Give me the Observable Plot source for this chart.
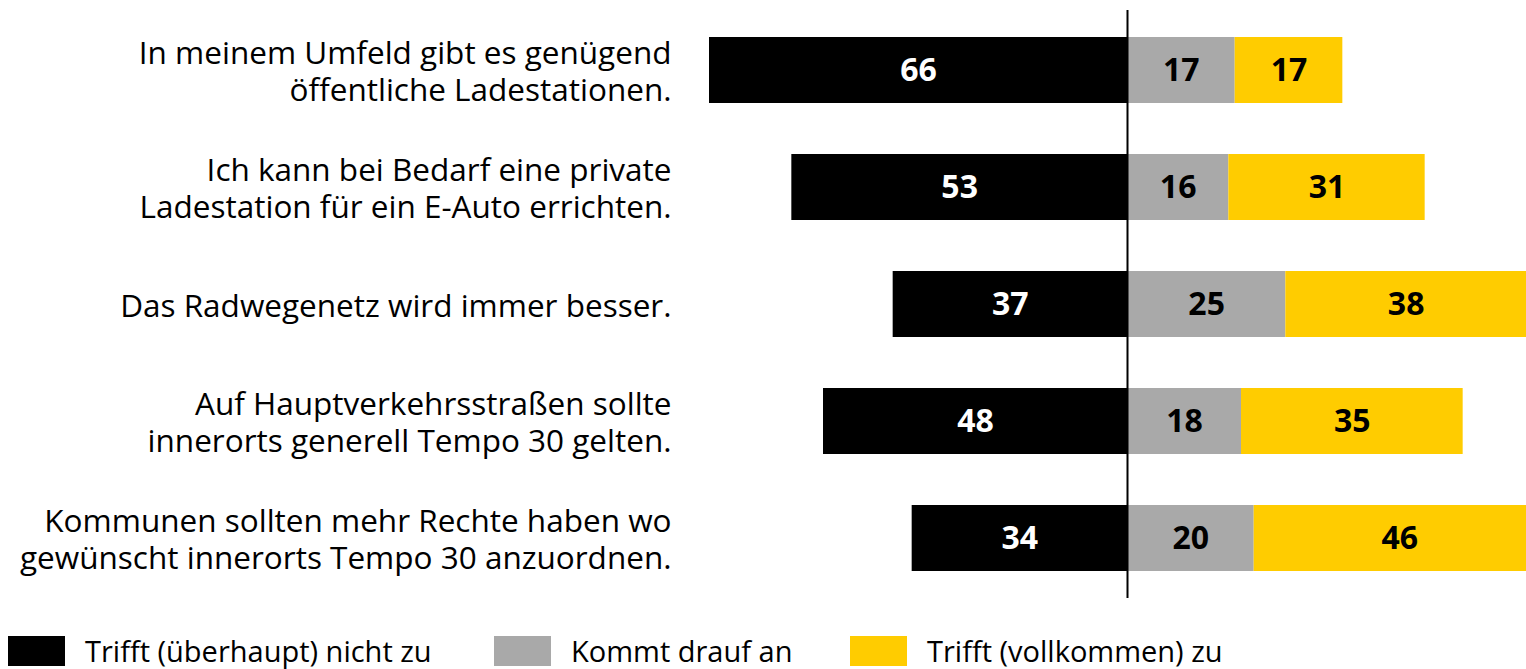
<!DOCTYPE html>
<html>
<head>
<meta charset="utf-8">
<script src="https://cdn.jsdelivr.net/npm/d3@7"></script>
<script src="https://cdn.jsdelivr.net/npm/@observablehq/plot@0.6"></script>
<style>
  html, body { margin: 0; padding: 0; background: #fff; }
  body { width: 1526px; height: 669px; position: relative; overflow: hidden; font-family: "Open Sans", sans-serif; }
  #chart { position: absolute; left: 0; top: 0; }
  .legend { position: absolute; left: 0; top: 636px; width: 1526px; height: 30px; }
  .item { position: absolute; top: 0; height: 30px; display: flex; align-items: center; }
  .sw { width: 57px; height: 30px; margin-right: 20px; flex: none; }
  .lab { font-size: 29px; color: #000; line-height: 30px; white-space: nowrap; }
</style>
</head>
<body>
<div id="chart"></div>
<div class="legend" id="legend"></div>
<script>
const categories = [
  "In meinem Umfeld gibt es genügend\nöffentliche Ladestationen.",
  "Ich kann bei Bedarf eine private\nLadestation für ein E-Auto errichten.",
  "Das Radwegenetz wird immer besser.",
  "Auf Hauptverkehrsstraßen sollte\ninnerorts generell Tempo 30 gelten.",
  "Kommunen sollten mehr Rechte haben wo\ngewünscht innerorts Tempo 30 anzuordnen."
];
const seriesNames = ["Trifft (überhaupt) nicht zu", "Kommt drauf an", "Trifft (vollkommen) zu"];
const seriesColors = ["#000000", "#A9A9A9", "#FFCC00"];
const trifftNicht = [66, 53, 37, 48, 34];
const kommtDraufAn = [17, 16, 25, 18, 20];
const trifftZu = [17, 31, 38, 35, 46];

const table = [];
categories.forEach((c, i) => {
  table.push({cat: c, series: seriesNames[0], value: -trifftNicht[i], label: trifftNicht[i]});
  table.push({cat: c, series: seriesNames[1], value: kommtDraufAn[i], label: kommtDraufAn[i]});
  table.push({cat: c, series: seriesNames[2], value: trifftZu[i], label: trifftZu[i]});
});

const plot = Plot.plot({
  width: 1526,
  height: 610,
  marginLeft: 709,
  marginRight: 0,
  marginTop: 10,
  marginBottom: 12,
  style: {fontFamily: "'Open Sans', sans-serif", background: "#fff"},
  x: {domain: [-66, 63], axis: null},
  y: {domain: categories, paddingInner: 0.44, paddingOuter: 0.22, label: null},
  color: {domain: seriesNames, range: seriesColors},
  marks: [
    Plot.barX(table, Plot.stackX({x: "value", y: "cat", fill: "series", order: seriesNames})),
    Plot.text(table, Plot.stackX({
      x: "value", y: "cat", order: seriesNames,
      text: "label",
      fill: d => d.series === seriesNames[0] ? "#fff" : "#000",
      fontSize: 32, fontWeight: "bold"
    })),
    Plot.ruleX([0], {stroke: "#000", strokeWidth: 2}),
    Plot.axisY({
      tickSize: 0, tickPadding: 38, fontSize: 31.5, lineHeight: 1.19,
      textAnchor: "end", label: null, fill: "#000"
    })
  ]
});
document.getElementById("chart").appendChild(plot);

const legendLefts = [8, 494, 850];
const leg = document.getElementById("legend");
seriesNames.forEach((s, i) => {
  const it = document.createElement("div");
  it.className = "item";
  it.style.left = legendLefts[i] + "px";
  it.innerHTML = `<div class="sw" style="background:${seriesColors[i]}"></div><span class="lab">${s}</span>`;
  leg.appendChild(it);
});
</script>
</body>
</html>
